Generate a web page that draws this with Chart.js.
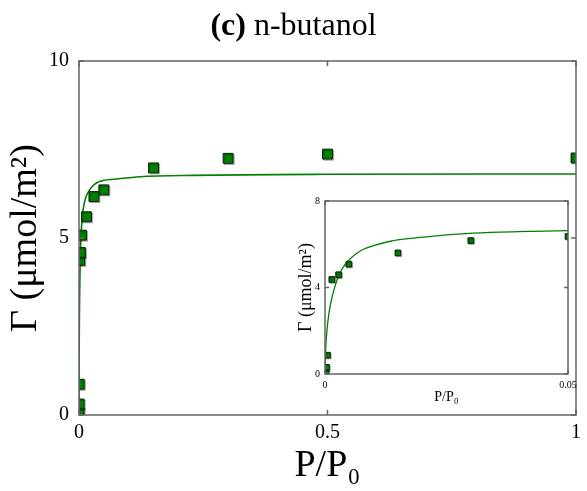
<!DOCTYPE html>
<html><head><meta charset="utf-8">
<script src="https://cdn.jsdelivr.net/npm/chart.js@4"></script>
<style>
html,body{margin:0;padding:0;background:#fff;}
#wrap{position:relative;width:587px;height:491px;overflow:hidden;}
#main{position:absolute;left:0;top:0;}
#inset{position:absolute;left:280px;top:190px;}
</style></head><body>
<div id="wrap">
<canvas id="main" width="587" height="491"></canvas>
<canvas id="inset" width="307" height="220"></canvas>
</div>
<script>
// ---- text ----
const titleBold = '(c)';
const titleText = 'n-butanol';
const xLabel = 'P/P₀';
const yLabel = 'Γ (μmol/m²)';

// ---- measured points ----
const dataX = [0.0002, 0.0003, 0.0005, 0.0014, 0.0028, 0.0049, 0.015, 0.03, 0.05, 0.15, 0.3, 0.5, 1.0];
const dataY = [0.06, 0.31, 0.87, 4.37, 4.59, 5.08, 5.6, 6.17, 6.36, 6.98, 7.25, 7.37, 7.26];

// ---- fitted curve ----
const fitX = [0, 0.0001, 0.0004, 0.0008, 0.0013, 0.002, 0.003, 0.004, 0.0054, 0.0075, 0.0102, 0.0137, 0.0171, 0.0223, 0.029, 0.036, 0.043, 0.05, 0.07, 0.123, 0.229, 0.5, 1.0];
const fitY = [0, 0.93, 2.0, 2.79, 3.4, 4.02, 4.64, 5.02, 5.38, 5.72, 5.95, 6.15, 6.26, 6.38, 6.49, 6.56, 6.6, 6.63, 6.66, 6.73, 6.77, 6.8, 6.81];

// ---- ticks ----
const mainXTicks = [0, 0.5, 1];
const mainYTicks = [0, 5, 10];
const insetXTicks = [0, 0.05];
const insetYTicks = [0, 4, 8];

const FONT = '"Liberation Serif", "DejaVu Serif", serif';
const GREEN = '#008000';

const pts = dataX.map((x, i) => ({x, y: dataY[i]}));
const fit = fitX.map((x, i) => ({x, y: fitY[i]}));

const framePlugin = {
  id: 'frame',
  afterDatasetsDraw(chart, args, opts) {
    const {ctx, chartArea: a, scales: {x, y}} = chart;
    ctx.save();
    ctx.strokeStyle = opts.color;
    ctx.lineWidth = opts.width;
    ctx.beginPath();
    x.ticks.forEach(t => {
      const p = x.getPixelForValue(t.value);
      ctx.moveTo(p, a.bottom); ctx.lineTo(p, a.bottom - opts.len);
      ctx.moveTo(p, a.top); ctx.lineTo(p, a.top + opts.len);
    });
    y.ticks.forEach(t => {
      const p = y.getPixelForValue(t.value);
      ctx.moveTo(a.left, p); ctx.lineTo(a.left + opts.len, p);
      ctx.moveTo(a.right, p); ctx.lineTo(a.right - opts.len, p);
    });
    ctx.stroke();
    ctx.strokeRect(a.left, a.top, a.right - a.left, a.bottom - a.top);
    ctx.restore();
  }
};

const shadowPlugin = {
  id: 'pshadow',
  beforeDatasetDraw(chart, args, opts) {
    if (args.index !== 0) return;
    const ctx = chart.ctx;
    ctx.save();
    ctx.shadowColor = 'rgba(0,0,0,0.25)';
    ctx.shadowOffsetX = opts.off;
    ctx.shadowOffsetY = opts.off;
    ctx.shadowBlur = 0;
  },
  afterDatasetDraw(chart, args) {
    if (args.index !== 0) return;
    chart.ctx.restore();
  }
};

const titlePlugin = {
  id: 'ctitle',
  afterDraw(chart) {
    const ctx = chart.ctx;
    ctx.save();
    ctx.fillStyle = '#000';
    ctx.textBaseline = 'alphabetic';
    const fb = 'bold 32px ' + FONT;
    const fn = '32px ' + FONT;
    ctx.font = fb;
    const w1 = ctx.measureText(titleBold + ' ').width;
    ctx.font = fn;
    const w2 = ctx.measureText(titleText).width;
    const x0 = (chart.width - w1 - w2) / 2;
    ctx.font = fb;
    ctx.fillText(titleBold + ' ', x0, 35);
    ctx.font = fn;
    ctx.fillText(titleText, x0 + w1, 35);
    ctx.restore();
  }
};

function makeChart(el, cfg) {
  return new Chart(el, {
    type: 'scatter',
    data: {
      datasets: [
        {
          data: pts, order: 0, clip: 0,
          pointStyle: 'rect', pointRadius: cfg.r, pointHoverRadius: cfg.r,
          backgroundColor: GREEN, borderColor: '#0b1f0b', borderWidth: 1
        },
        {
          data: fit, order: 1, clip: 0, showLine: true,
          cubicInterpolationMode: 'monotone',
          pointRadius: 0, borderColor: GREEN, borderWidth: cfg.lw, backgroundColor: GREEN
        }
      ]
    },
    options: {
      responsive: false, animation: false, devicePixelRatio: 1,
      layout: {padding: cfg.pad},
      plugins: {
        legend: {display: false}, tooltip: {enabled: false}, title: {display: false},
        frame: {color: '#646464', width: cfg.bw, len: cfg.tl},
        pshadow: {off: cfg.so}
      },
      scales: {
        x: {
          type: 'linear', min: cfg.xmin, max: cfg.xmax,
          afterBuildTicks: s => { s.ticks = cfg.xt.map(v => ({value: v})); },
          afterFit: s => { s.height = cfg.xh; },
          grid: {display: false, drawTicks: false},
          border: {display: false},
          ticks: {color: '#000', font: {family: FONT, size: cfg.tf}, padding: cfg.xtp, maxRotation: 0, autoSkip: false,
                  callback: v => String(v)},
          title: {display: true, text: xLabel, color: '#000', font: {family: FONT, size: cfg.xtf}, padding: {top: 0, bottom: cfg.xtpb}}
        },
        y: {
          type: 'linear', min: cfg.ymin, max: cfg.ymax,
          afterBuildTicks: s => { s.ticks = cfg.yt.map(v => ({value: v})); },
          afterFit: s => { s.width = cfg.yw; },
          grid: {display: false, drawTicks: false},
          border: {display: false},
          ticks: {color: '#000', font: {family: FONT, size: cfg.tf}, padding: cfg.ytp, autoSkip: false,
                  callback: v => String(v)},
          title: {display: true, text: yLabel, color: '#000', font: {family: FONT, size: cfg.ytf}, padding: {top: cfg.ytpt, bottom: 0}}
        }
      }
    },
    plugins: cfg.title ? [framePlugin, shadowPlugin, titlePlugin] : [framePlugin, shadowPlugin]
  });
}

makeChart(document.getElementById('main'), {
  r: 7, lw: 1.6, bw: 1.5, tl: 5, so: 1.2,
  pad: {top: 61, right: 6, left: 0, bottom: 0},
  xmin: 0, xmax: 1, ymin: 0, ymax: 10,
  xt: mainXTicks, yt: mainYTicks,
  xh: 76, yw: 79, tf: 20, xtp: 6, ytp: 10,
  xtf: 38, xtpb: 2, ytf: 38, ytpt: 3, title: true
});

makeChart(document.getElementById('inset'), {
  r: 4, lw: 1.3, bw: 1.5, tl: 4, so: 1,
  pad: {top: 11, right: 19, left: 0, bottom: 0},
  xmin: 0, xmax: 0.05, ymin: 0, ymax: 8,
  xt: insetXTicks, yt: insetYTicks,
  xh: 36, yw: 45, tf: 10, xtp: 5, ytp: 5,
  xtf: 14, xtpb: 4, ytf: 18, ytpt: 15, title: false
});
</script>
</body></html>
